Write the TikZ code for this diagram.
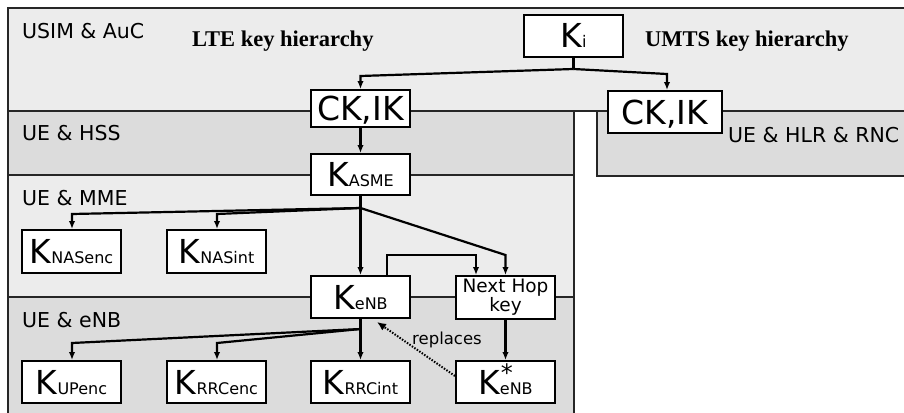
\documentclass[tikz,border=0pt]{standalone}
\usepackage{fontspec}
\setmainfont{DejaVu Sans}
\newfontfamily\titlefont{Liberation Serif}
\usetikzlibrary{arrows.meta}
\definecolor{bandlight}{RGB}{236,236,236}
\definecolor{banddark}{RGB}{220,220,220}
\newcommand\keyK[1]{{\fontsize{33}{33}\selectfont K}{\fontsize{16}{16}\selectfont #1}}
\newcommand\keyKstar[1]{{\fontsize{33}{33}\selectfont K}{\fontsize{16}{16}\selectfont\rlap{\hspace{1pt}\raisebox{13pt}{\fontsize{24}{24}\selectfont *}}#1}}
\begin{document}
\begin{tikzpicture}[x=1pt,y=-1pt,
  band/.style={draw=black!85, line width=1.1pt},
  keybox/.style={draw, line width=2pt, fill=white, inner sep=0pt, minimum width=99pt, minimum height=42pt, text height=24pt, text depth=0pt},
  nhbox/.style={draw, line width=2pt, fill=white, inner sep=0pt, minimum width=99pt, minimum height=43pt, align=center, font=\fontsize{18.5}{16}\selectfont},
  conn/.style={line width=2.2pt},
  arr/.style={conn, -{Latex[length=8pt,width=6.5pt]}},
  dotarr/.style={line width=2pt, dash pattern=on 1.5pt off 1.5pt, -{Latex[length=9pt,width=8pt]}},
  bandlabel/.style={anchor=base west, inner sep=0pt, font=\fontsize{20.5}{20.5}\selectfont},
  title/.style={anchor=base west, inner sep=0pt, font=\titlefont\bfseries\fontsize{22.5}{22.5}\selectfont}]
\useasboundingbox (0,0) rectangle (904,412);
\clip (0,0) rectangle (904,412);
\fill[white] (0,0) rectangle (904,412);
% bands
\draw[band, fill=bandlight] (8,8) rectangle (910,111);
\draw[band, fill=banddark] (8,111) rectangle (574,175);
\draw[band, fill=bandlight] (8,175) rectangle (574,297);
\draw[band, fill=banddark] (8,297) rectangle (574,420);
\draw[band, fill=banddark] (597,111) rectangle (910,176);
% band labels
\node[bandlabel] (lusim) at (22,39) {USIM \& AuC};
\node[bandlabel] (lhss) at (22,140) {UE \& HSS};
\node[bandlabel] (lmme) at (22,205) {UE \& MME};
\node[bandlabel] (lenb) at (22,327) {UE \& eNB};
\node[bandlabel] (lhlr) at (728,142) {UE \& HLR \& RNC};
\node[title] (tlte) at (192,47) {LTE key hierarchy};
\node[title] (tumts) at (645,47) {UMTS key hierarchy};
% key nodes
\node[keybox] (ki) at (573.5,36) {\keyK{i}};
\node[keybox, minimum height=37pt] (ckl) at (360.5,108.5) {\fontsize{33}{33}\selectfont CK,IK};
\node[keybox, minimum width=114pt] (cku) at (665,112) {\fontsize{33}{33}\selectfont CK,IK};
\node[keybox, minimum height=41pt] (kasme) at (360.5,174.5) {\keyK{ASME}};
\node[keybox, minimum height=43pt] (knasenc) at (71.5,251.5) {\keyK{NASenc}};
\node[keybox, minimum height=43pt] (knasint) at (216.5,251.5) {\keyK{NASint}};
\node[keybox] (kenb) at (360.5,297) {\keyK{eNB}};
\node[nhbox] (nh) at (505.5,297.5) {Next Hop\\key};
\node[keybox] (kupenc) at (71.5,382) {\keyK{UPenc}};
\node[keybox] (krrcenc) at (216.5,382) {\keyK{RRCenc}};
\node[keybox] (krrcint) at (360.5,382) {\keyK{RRCint}};
\node[keybox] (kstar) at (505.5,382) {\keyKstar{eNB}};
% connectors
\coordinate (kj) at ([yshift=-11pt]ki.south);
\coordinate (b1) at (360.5,76);
\coordinate (b2) at (667,74);
\draw[conn] (ki.south) -- (kj);
\draw[arr] (kj) -- (b1) -- (b1 |- ckl.north);
\draw[arr] (kj) -- (b2) -- (b2 |- cku.north);
\draw[arr] (ckl) -- (kasme);
\coordinate (ka) at ([yshift=-12pt]kasme.south);
\coordinate (c1) at (72,214);
\coordinate (c2) at (217,214);
\coordinate (c3) at (505.5,255);
\draw[conn] (kasme.south) -- (ka);
\draw[arr] (ka) -- (c1) -- (c1 |- knasenc.north);
\draw[arr] (ka) -- (c2) -- (c2 |- knasint.north);
\draw[arr] (ka) -- (kenb.north);
\draw[arr] (ka) -- (c3) -- (nh.north);
\coordinate (d1) at (387,255);
\coordinate (d2) at (476,255);
\draw[arr] (d1 |- kenb.north) -- (d1) -- (d2) -- (d2 |- nh.north);
\coordinate (ke) at ([yshift=-10pt]kenb.south);
\coordinate (e1) at (72,343);
\coordinate (e2) at (217,343);
\draw[conn] (kenb.south) -- (ke);
\draw[arr] (ke) -- (e1) -- (e1 |- kupenc.north);
\draw[arr] (ke) -- (e2) -- (e2 |- krrcenc.north);
\draw[arr] (ke) -- (krrcint.north);
\draw[arr] (nh) -- (kstar);
\coordinate (rs) at ([yshift=6pt]kstar.west);
\coordinate (rt) at (377,322);
\draw[dotarr] (rs) -- (rt);
\node[inner sep=0pt, font=\fontsize{16.5}{16.5}\selectfont] (rep) at (447,340) {replaces};
\end{tikzpicture}
\end{document}
